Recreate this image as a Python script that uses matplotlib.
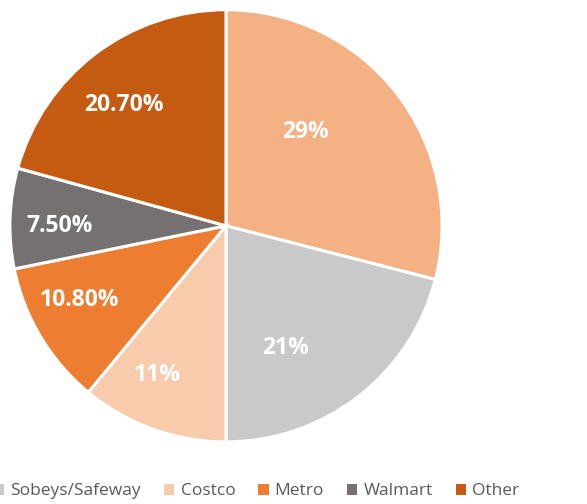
import numpy as np
import matplotlib.pyplot as plt
from matplotlib.patches import Patch

# datos del grafico
shares = [29, 21, 11, 10.8, 7.5, 20.7]
pct_labels = ["29%", "21%", "11%", "10.80%", "7.50%", "20.70%"]
legend_names = ["Sobeys/Safeway", "Costco", "Metro", "Walmart", "Other"]
colors = ["#F4B183", "#C9C9C9", "#F8CBAD", "#ED7D31", "#767171", "#C55A11"]
# posicion de las etiquetas (fraccion del radio, desfase angular en grados)
lab_dist = [0.57, 0.63, 0.76, 0.76, 0.77, 0.73]
lab_shift = [12, -12, -5, -4, 2, 3]

plt.rcParams['font.family'] = ['Open Sans', 'DejaVu Sans']

fig = plt.figure(figsize=(5.87, 5.04), dpi=100)
ax = fig.add_axes([0.013, 0.119, 0.744, 0.866])

wedges, _ = ax.pie(shares, colors=colors, startangle=90, counterclock=False,
                   wedgeprops=dict(edgecolor="white", linewidth=2.2))
ax.set_xlim(-1.01, 1.01)
ax.set_ylim(-1.01, 1.01)

for w, txt, d, s in zip(wedges, pct_labels, lab_dist, lab_shift):
    ang = np.deg2rad((w.theta1 + w.theta2) / 2 + s)
    ax.text(d * np.cos(ang), d * np.sin(ang), txt, ha="center", va="center",
            color="white", fontsize=16.5, fontweight="bold")

# leyenda (la primera entrada queda cortada en la imagen original)
handles = [Patch(facecolor=colors[1]), Patch(facecolor=colors[2]),
           Patch(facecolor=colors[3]), Patch(facecolor=colors[4]),
           Patch(facecolor=colors[5])]
leg = fig.legend(handles, legend_names, loc="center left", bbox_to_anchor=(-0.022, 0.025),
                 ncol=5, frameon=False, fontsize=12.5, handlelength=0.6, handleheight=0.6,
                 handletextpad=0.35, columnspacing=1.32, borderaxespad=0)
for t in leg.get_texts():
    t.set_color("#595959")

fig.savefig("out.png", dpi=100)
